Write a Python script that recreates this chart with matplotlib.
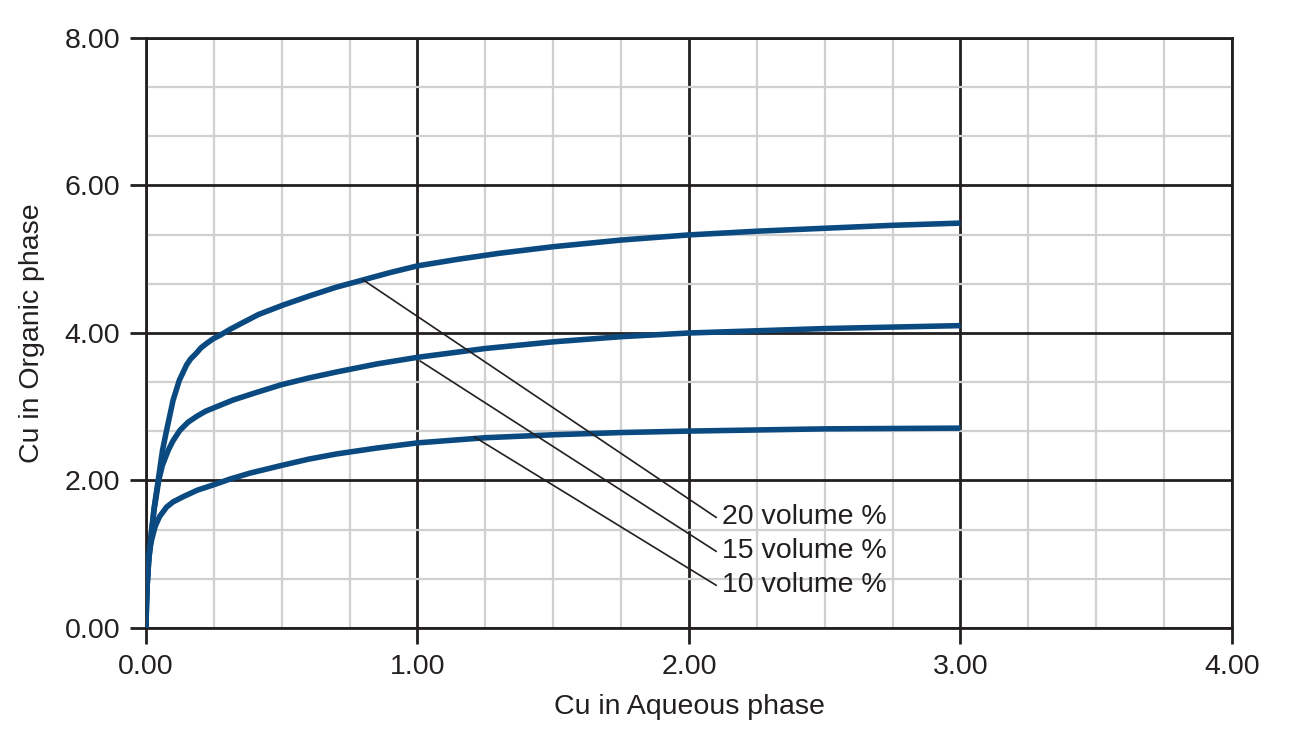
import matplotlib
matplotlib.use('Agg')
import matplotlib.pyplot as plt
from matplotlib.ticker import MultipleLocator

# Cu extraction isotherms
x_20 = [0, 0.002, 0.005, 0.01, 0.015, 0.02, 0.03, 0.045, 0.061, 0.076, 0.1,
        0.123, 0.15, 0.165, 0.184, 0.203, 0.224, 0.247, 0.273, 0.31, 0.346,
        0.414, 0.506, 0.6, 0.7, 0.8, 0.9, 1.0, 1.15, 1.3, 1.5, 1.75, 2.0,
        2.25, 2.5, 2.75, 3.0]
y_20 = [0, 0.35, 0.62, 0.9, 1.1, 1.3, 1.63, 2.0, 2.41, 2.68, 3.09,
        3.36, 3.57, 3.65, 3.72, 3.80, 3.86, 3.92, 3.97, 4.05, 4.12,
        4.25, 4.38, 4.50, 4.62, 4.72, 4.82, 4.91, 5.00, 5.08, 5.17, 5.26, 5.33,
        5.38, 5.42, 5.46, 5.49]

x_15 = [0, 0.002, 0.005, 0.01, 0.015, 0.02, 0.03, 0.047, 0.06, 0.082, 0.1,
        0.125, 0.155, 0.187, 0.22, 0.26, 0.32, 0.395, 0.5, 0.6, 0.7, 0.85,
        1.0, 1.25, 1.5, 1.75, 2.0, 2.5, 3.0]
y_15 = [0, 0.35, 0.62, 0.9, 1.1, 1.28, 1.6, 2.0, 2.2, 2.41, 2.54,
        2.68, 2.79, 2.87, 2.94, 3.0, 3.09, 3.18, 3.30, 3.39, 3.47, 3.58,
        3.67, 3.79, 3.88, 3.95, 4.0, 4.06, 4.1]

x_10 = [0, 0.002, 0.005, 0.009, 0.02, 0.033, 0.05, 0.076, 0.1, 0.137, 0.19,
        0.248, 0.31, 0.383, 0.506, 0.6, 0.702, 0.85, 1.0, 1.25, 1.5, 1.75,
        2.0, 2.5, 3.0]
y_10 = [0, 0.35, 0.62, 0.95, 1.18, 1.37, 1.51, 1.64, 1.71, 1.78, 1.87,
        1.94, 2.02, 2.10, 2.21, 2.29, 2.36, 2.44, 2.51, 2.58, 2.62, 2.65,
        2.67, 2.70, 2.71]

labels = ['20 volume %', '15 volume %', '10 volume %']
# leader lines: start on the curve, end next to the label
lead_start = [(0.80, 4.72), (1.01, 3.62), (1.21, 2.59)]
lead_end = [(2.10, 1.50), (2.10, 1.04), (2.10, 0.58)]

plt.rcParams['font.family'] = ['Liberation Sans', 'DejaVu Sans']
black = '#231f20'
blue = '#0b4a80'

fig = plt.figure(figsize=(13.02, 7.39), dpi=100)
ax = fig.add_axes([0.1121, 0.1502, 0.8341, 0.7984])

for xx, yy in ((x_20, y_20), (x_15, y_15), (x_10, y_10)):
    ax.plot(xx, yy, color=blue, lw=4.0, solid_capstyle='butt',
            solid_joinstyle='round', zorder=4)

for (x0, y0), (x1, y1), lab in zip(lead_start, lead_end, labels):
    ax.plot([x0, x1], [y0, y1], color=black, lw=1.2, zorder=5)
    ax.text(x1 + 0.02, y1, lab, fontsize=20.5, color=black,
            va='center', ha='left', zorder=6)

ax.set_xlim(0, 4)
ax.set_ylim(0, 8)
ax.xaxis.set_major_locator(MultipleLocator(1))
ax.xaxis.set_minor_locator(MultipleLocator(0.25))
ax.yaxis.set_major_locator(MultipleLocator(2))
ax.yaxis.set_minor_locator(MultipleLocator(2 / 3))
ax.set_xticklabels([f'{v:.2f}' for v in ax.get_xticks()])
ax.set_yticklabels([f'{v:.2f}' for v in ax.get_yticks()])

ax.grid(which='minor', color='#d0d0d0', lw=1.6, zorder=1)
ax.grid(which='major', color=black, lw=2.0, zorder=2)
ax.set_axisbelow(True)

for s in ax.spines.values():
    s.set_color(black)
    s.set_linewidth(2.0)

ax.tick_params(which='major', length=11.5, width=2.0, color=black,
               labelsize=20.5, labelcolor=black, pad=7)
ax.tick_params(which='minor', length=0)

ax.set_xlabel('Cu in Aqueous phase', fontsize=20.5, color=black, labelpad=10)
ax.set_ylabel('Cu in Organic phase', fontsize=20.5, color=black, labelpad=14)

fig.savefig('out.png', dpi=100)
